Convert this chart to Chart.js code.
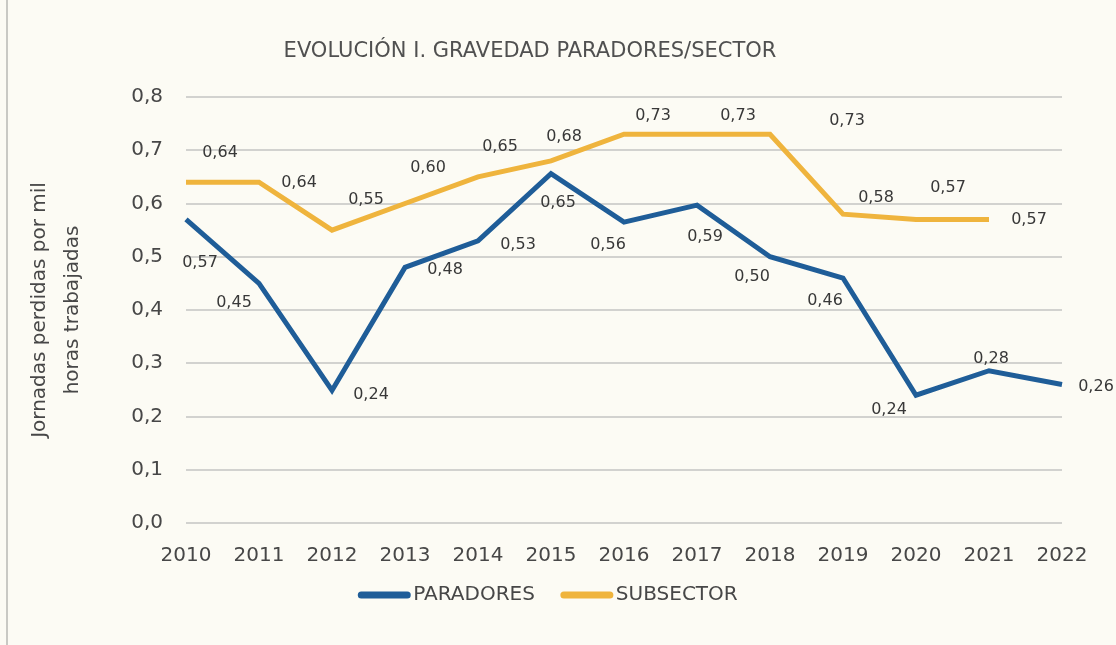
<!DOCTYPE html>
<html>
<head>
<meta charset="utf-8">
<script src="https://cdn.jsdelivr.net/npm/chart.js@4"></script>
<style>
  html, body { margin: 0; padding: 0; background: #fcfbf4; }
  #wrap { width: 1116px; height: 645px; }
</style>
</head>
<body>
<div id="wrap"><canvas id="c" width="1116" height="645"></canvas></div>
<script>
// ---- data ----
const years = ['2010','2011','2012','2013','2014','2015','2016','2017','2018','2019','2020','2021','2022'];
const paradores = [0.57, 0.45, 0.249, 0.48, 0.53, 0.656, 0.565, 0.597, 0.50, 0.46, 0.24, 0.286, 0.26];
const subsector = [0.64, 0.64, 0.55, 0.60, 0.65, 0.68, 0.73, 0.73, 0.73, 0.58, 0.57, 0.57, null];
const paradoresLabels = ['0,57','0,45','0,24','0,48','0,53','0,65','0,56','0,59','0,50','0,46','0,24','0,28','0,26'];
const subsectorLabels = ['0,64','0,64','0,55','0,60','0,65','0,68','0,73','0,73','0,73','0,58','0,57','0,57', null];
const yTicks = [0, 0.1, 0.2, 0.3, 0.4, 0.5, 0.6, 0.7, 0.8];

// ---- label placement (pixel offsets from each point) ----
const paradoresLabelOffsets = [[14,43],[-25,19],[39,4],[40,2],[40,4],[7,29],[-16,23],[8,32],[-18,20],[-18,23],[-27,15],[2,-12],[34,2]];
const subsectorLabelOffsets = [[34,-29],[40,1],[34,-30],[23,-36],[22,-30],[13,-24],[29,-18],[41,-18],[77,-13],[33,-16],[32,-32],[40,0],null];

const FONT = 'DejaVu Sans';
const TEXT = '#474747';

const bgPlugin = {
  id: 'bg',
  beforeDraw(chart) {
    const ctx = chart.ctx;
    ctx.save();
    ctx.fillStyle = '#fcfbf4';
    ctx.fillRect(0, 0, chart.width, chart.height);
    ctx.strokeStyle = '#c9c9c4';
    ctx.lineWidth = 2;
    ctx.beginPath();
    ctx.moveTo(7, 0); ctx.lineTo(7, chart.height);
    ctx.stroke();
    // title
    ctx.fillStyle = '#505050';
    ctx.font = '21px "' + FONT + '"';
    ctx.textAlign = 'center';
    ctx.textBaseline = 'middle';
    ctx.fillText('EVOLUCIÓN I. GRAVEDAD PARADORES/SECTOR', 530, 52);
    ctx.restore();
  }
};

const labelPlugin = {
  id: 'pointLabels',
  afterDatasetsDraw(chart) {
    const ctx = chart.ctx;
    const sets = [[paradoresLabels, paradoresLabelOffsets], [subsectorLabels, subsectorLabelOffsets]];
    ctx.save();
    ctx.font = '16px "' + FONT + '"';
    ctx.fillStyle = '#383838';
    ctx.textAlign = 'center';
    ctx.textBaseline = 'middle';
    sets.forEach(([labels, offs], di) => {
      const meta = chart.getDatasetMeta(di);
      meta.data.forEach((el, i) => {
        if (labels[i] == null || offs[i] == null || el.skip) return;
        ctx.fillText(labels[i], el.x + offs[i][0], el.y + offs[i][1]);
      });
    });
    ctx.restore();
  }
};

const legendPlugin = {
  id: 'customLegend',
  afterDraw(chart) {
    const ctx = chart.ctx;
    ctx.save();
    ctx.font = '20px "' + FONT + '"';
    ctx.textBaseline = 'middle';
    ctx.textAlign = 'left';
    const lineW = 52, gap = 3, between = 26;
    const items = chart.data.datasets.map(d => ({ text: d.label, color: d.borderColor, w: ctx.measureText(d.label).width }));
    const total = items.reduce((s, it) => s + lineW + gap + it.w, 0) + between * (items.length - 1);
    let x = 548 - total / 2;
    const y = 595;
    items.forEach(it => {
      ctx.strokeStyle = it.color;
      ctx.lineWidth = 7;
      ctx.lineCap = 'round';
      ctx.beginPath();
      ctx.moveTo(x + 3, y); ctx.lineTo(x + lineW - 3, y);
      ctx.stroke();
      ctx.fillStyle = TEXT;
      ctx.fillText(it.text, x + lineW + gap, y);
      x += lineW + gap + it.w + between;
    });
    ctx.restore();
  }
};

new Chart(document.getElementById('c'), {
  type: 'line',
  data: {
    labels: years,
    datasets: [
      { label: 'PARADORES', data: paradores, borderColor: '#1f5d98', backgroundColor: '#1f5d98',
        borderWidth: 5, pointRadius: 0, tension: 0, borderJoinStyle: 'miter', spanGaps: false },
      { label: 'SUBSECTOR', data: subsector, borderColor: '#efb43d', backgroundColor: '#efb43d',
        borderWidth: 5, pointRadius: 0, tension: 0, borderJoinStyle: 'miter', spanGaps: false }
    ]
  },
  options: {
    responsive: false,
    animation: false,
    layout: { padding: { left: 0, right: 54, top: 97, bottom: 0 } },
    plugins: {
      legend: { display: false },
      title: { display: false },
      tooltip: { enabled: false }
    },
    scales: {
      x: {
        offset: false,
        grid: { display: false, drawTicks: false },
        border: { display: false },
        ticks: { font: { family: FONT, size: 20 }, color: TEXT, padding: 21, maxRotation: 0, autoSkip: false },
        afterFit(scale) { scale.height = 122; }
      },
      y: {
        min: 0, max: 0.8,
        afterBuildTicks(scale) { scale.ticks = yTicks.map(v => ({ value: v })); },
        grid: { color: '#d2d2cf', lineWidth: 2, drawTicks: false },
        border: { display: false },
        ticks: {
          font: { family: FONT, size: 20 }, color: TEXT, padding: 23,
          callback: v => v.toFixed(1).replace('.', ',')
        },
        title: {
          display: true,
          text: ['Jornadas perdidas por mil', 'horas trabajadas'],
          font: { family: FONT, size: 20, lineHeight: 1.625 },
          color: TEXT,
          padding: { top: 24, bottom: 0 }
        },
        afterFit(scale) { scale.width = 186; }
      }
    }
  },
  plugins: [bgPlugin, labelPlugin, legendPlugin]
});
</script>
</body>
</html>
